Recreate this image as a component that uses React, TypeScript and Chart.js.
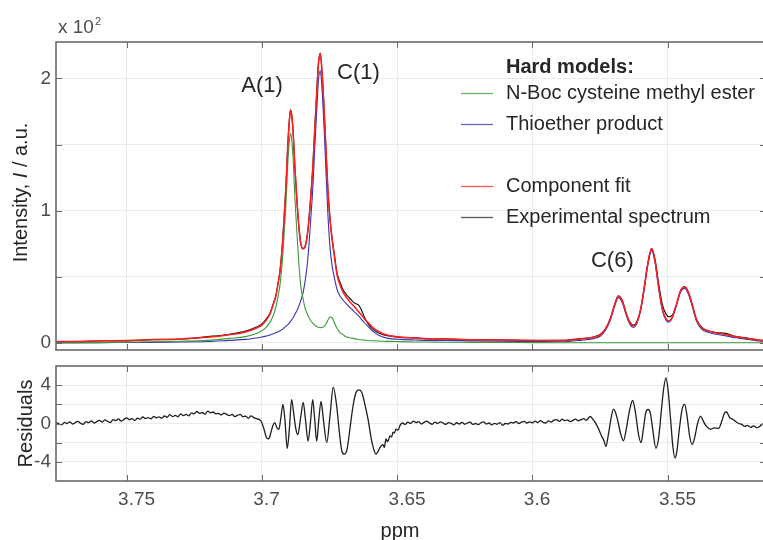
import { useEffect, useRef } from "react";
import { Chart, registerables } from "chart.js";
Chart.register(...registerables);

// ---------- data (chemical shift in ppm, intensity in x10^2 a.u.) ----------
const ppm = [
  3.78, 3.77, 3.76, 3.75, 3.74, 3.73, 3.72, 3.712, 3.706, 3.702,
  3.7, 3.6985, 3.697, 3.6959, 3.6948, 3.6941, 3.6933, 3.6926, 3.6919, 3.6911,
  3.6904, 3.6898, 3.6894, 3.6889, 3.6883, 3.6878, 3.687, 3.6863, 3.6856, 3.6848,
  3.6841, 3.6833, 3.6826, 3.6819, 3.6811, 3.6804, 3.6796, 3.6791, 3.6784, 3.6778,
  3.677, 3.6763, 3.6756, 3.6748, 3.6741, 3.6733, 3.6722, 3.6711, 3.67, 3.6689,
  3.6678, 3.6667, 3.6656, 3.6644, 3.6633, 3.6622, 3.6607, 3.6593, 3.6574, 3.6552,
  3.6526, 3.6489, 3.6433, 3.6378, 3.6322, 3.623, 3.6119, 3.6007, 3.5896, 3.5822,
  3.5774, 3.5748, 3.573, 3.5711, 3.5696, 3.5682, 3.5667, 3.5652, 3.5639, 3.5627,
  3.5615, 3.56, 3.5587, 3.5574, 3.5559, 3.5546, 3.5533, 3.5519, 3.5506, 3.5495,
  3.5482, 3.5467, 3.5452, 3.5436, 3.5422, 3.5407, 3.5393, 3.5374, 3.5348, 3.5319,
  3.5285, 3.5248, 3.52, 3.5145, 3.51,
];
const nBocCysteine = [
  0.0, 0.001, 0.003, 0.006, 0.009, 0.013, 0.02, 0.035, 0.048, 0.071,
  0.092, 0.117, 0.156, 0.202, 0.272, 0.341, 0.438, 0.575, 0.775, 1.045,
  1.355, 1.535, 1.585, 1.525, 1.34, 1.107, 0.825, 0.6, 0.43, 0.34,
  0.27, 0.225, 0.192, 0.168, 0.148, 0.133, 0.123, 0.119, 0.116, 0.117,
  0.125, 0.143, 0.171, 0.197, 0.193, 0.159, 0.109, 0.079, 0.063, 0.047,
  0.041, 0.036, 0.033, 0.027, 0.024, 0.022, 0.019, 0.017, 0.015, 0.013,
  0.012, 0.01, 0.008, 0.007, 0.006, 0.005, 0.004, 0.003, 0.002, 0.002,
  0.002, 0.002, 0.002, 0.002, 0.002, 0.002, 0.002, 0.002, 0.002, 0.002,
  0.002, 0.002, 0.002, 0.002, 0.002, 0.002, 0.002, 0.002, 0.002, 0.002,
  0.002, 0.002, 0.002, 0.002, 0.002, 0.002, 0.002, 0.002, 0.002, 0.002,
  0.002, 0.002, 0.002, 0.002, 0.002,
];
const thioetherProduct = [
  0.002, 0.002, 0.003, 0.004, 0.005, 0.007, 0.011, 0.02, 0.027, 0.038,
  0.045, 0.052, 0.06, 0.068, 0.077, 0.084, 0.092, 0.101, 0.112, 0.125,
  0.139, 0.152, 0.163, 0.177, 0.195, 0.217, 0.245, 0.28, 0.32, 0.375,
  0.455, 0.575, 0.735, 0.94, 1.19, 1.49, 1.795, 1.975, 2.06, 1.935,
  1.635, 1.305, 0.985, 0.725, 0.595, 0.505, 0.405, 0.355, 0.325, 0.3,
  0.275, 0.255, 0.232, 0.208, 0.183, 0.155, 0.125, 0.095, 0.065, 0.045,
  0.033, 0.027, 0.023, 0.02, 0.02, 0.016, 0.013, 0.011, 0.009, 0.02,
  0.033, 0.053, 0.095, 0.175, 0.275, 0.343, 0.305, 0.205, 0.14, 0.118,
  0.14, 0.24, 0.395, 0.575, 0.702, 0.605, 0.415, 0.245, 0.175, 0.158,
  0.19, 0.285, 0.385, 0.413, 0.365, 0.265, 0.165, 0.105, 0.08, 0.066,
  0.054, 0.04, 0.026, 0.012, 0.01,
];
const componentFit = [
  0.01, 0.012, 0.015, 0.019, 0.024, 0.031, 0.043, 0.062, 0.083, 0.113,
  0.135, 0.17, 0.217, 0.285, 0.355, 0.435, 0.54, 0.685, 0.895, 1.175,
  1.495, 1.685, 1.76, 1.715, 1.545, 1.335, 1.07, 0.88, 0.755, 0.715,
  0.725, 0.8, 0.93, 1.11, 1.345, 1.63, 1.93, 2.105, 2.19, 2.065,
  1.775, 1.465, 1.165, 0.935, 0.795, 0.675, 0.515, 0.44, 0.385, 0.35,
  0.32, 0.295, 0.27, 0.24, 0.215, 0.185, 0.155, 0.125, 0.093, 0.07,
  0.055, 0.045, 0.037, 0.032, 0.03, 0.025, 0.022, 0.02, 0.018, 0.03,
  0.043, 0.063, 0.105, 0.185, 0.285, 0.353, 0.315, 0.215, 0.15, 0.128,
  0.15, 0.25, 0.405, 0.585, 0.712, 0.615, 0.425, 0.255, 0.185, 0.168,
  0.2, 0.295, 0.395, 0.423, 0.375, 0.275, 0.175, 0.115, 0.09, 0.075,
  0.063, 0.048, 0.033, 0.018, 0.015,
];
const experimentalSpectrum = [
  0.012, 0.008, 0.017, 0.016, 0.027, 0.03, 0.048, 0.066, 0.09, 0.12,
  0.143, 0.178, 0.225, 0.29, 0.36, 0.44, 0.542, 0.688, 0.897, 1.178,
  1.497, 1.688, 1.762, 1.716, 1.546, 1.336, 1.07, 0.878, 0.752, 0.712,
  0.722, 0.798, 0.928, 1.109, 1.345, 1.631, 1.932, 2.107, 2.192, 2.067,
  1.778, 1.47, 1.17, 0.942, 0.805, 0.688, 0.53, 0.46, 0.405, 0.37,
  0.345, 0.32, 0.3, 0.29, 0.255, 0.2, 0.145, 0.11, 0.082, 0.063,
  0.052, 0.043, 0.039, 0.03, 0.032, 0.023, 0.024, 0.019, 0.02, 0.033,
  0.045, 0.066, 0.105, 0.19, 0.29, 0.357, 0.32, 0.22, 0.158, 0.135,
  0.155, 0.25, 0.41, 0.59, 0.715, 0.63, 0.45, 0.29, 0.22, 0.198,
  0.21, 0.29, 0.395, 0.427, 0.38, 0.28, 0.18, 0.12, 0.092, 0.078,
  0.073, 0.05, 0.036, 0.02, 0.018,
];

const residualPpm = [
  3.778, 3.777, 3.776, 3.775, 3.774, 3.773, 3.772, 3.771, 3.77, 3.769,
  3.768, 3.767, 3.766, 3.765, 3.764, 3.763, 3.762, 3.761, 3.76, 3.759,
  3.758, 3.757, 3.756, 3.755, 3.754, 3.753, 3.752, 3.751, 3.75, 3.749,
  3.748, 3.747, 3.746, 3.745, 3.744, 3.743, 3.742, 3.741, 3.74, 3.739,
  3.738, 3.737, 3.736, 3.735, 3.734, 3.733, 3.732, 3.731, 3.73, 3.729,
  3.728, 3.727, 3.726, 3.725, 3.724, 3.723, 3.722, 3.721, 3.72, 3.719,
  3.718, 3.717, 3.716, 3.715, 3.714, 3.713, 3.712, 3.711, 3.71, 3.709,
  3.708, 3.707, 3.706, 3.705, 3.704, 3.703, 3.702,
  3.7004, 3.6993, 3.6982, 3.6974, 3.6967, 3.6959, 3.6952, 3.6945, 3.6937, 3.693,
  3.6922, 3.6915, 3.6906, 3.6898, 3.689, 3.6882, 3.6874, 3.6867, 3.6857, 3.6847,
  3.6839, 3.6829, 3.682, 3.6812, 3.6805, 3.6797, 3.679, 3.6781, 3.6772, 3.676,
  3.6748, 3.6736, 3.6724, 3.6713, 3.6704, 3.6695, 3.6685, 3.6674, 3.6663, 3.6652,
  3.664, 3.663, 3.6619, 3.6607, 3.6596, 3.6585, 3.6578, 3.657, 3.6563, 3.6552,
  3.6547, 3.6541, 3.6535, 3.6526, 3.652, 3.6515, 3.651, 3.6504, 3.6496, 3.6489,
  3.648, 3.647, 3.646, 3.645, 3.644, 3.643, 3.642, 3.641, 3.64, 3.639,
  3.638, 3.637, 3.636, 3.635, 3.634, 3.633, 3.632, 3.631, 3.63, 3.629,
  3.628, 3.627, 3.626, 3.625, 3.624, 3.623, 3.622, 3.621, 3.62, 3.619,
  3.618, 3.617, 3.616, 3.615, 3.614, 3.613, 3.612, 3.611, 3.61, 3.609,
  3.608, 3.607, 3.606, 3.605, 3.604, 3.603, 3.602, 3.601, 3.6, 3.599,
  3.598, 3.597, 3.596, 3.595, 3.594, 3.593, 3.592, 3.591, 3.59, 3.589,
  3.588, 3.587, 3.586, 3.585, 3.584, 3.583, 3.582, 3.581, 3.58, 3.579,
  3.5785, 3.5778, 3.5767, 3.5756, 3.5744, 3.5735, 3.5728, 3.5719, 3.5709, 3.57,
  3.5693, 3.5685, 3.5674, 3.5663, 3.5652, 3.5641, 3.5629, 3.5619, 3.5607, 3.5598,
  3.5589, 3.558, 3.5572, 3.5563, 3.5554, 3.5543, 3.5533, 3.5524, 3.5515, 3.5506,
  3.5498, 3.5489, 3.548, 3.5472, 3.5465, 3.5456, 3.5446, 3.5437, 3.5428, 3.5419,
  3.5409, 3.54, 3.5389, 3.5378, 3.5367, 3.5356, 3.5341, 3.5326, 3.5311, 3.53,
  3.5289, 3.5282, 3.527, 3.5259, 3.5248, 3.5237, 3.5226, 3.5215, 3.5204, 3.5193,
  3.5182, 3.517, 3.5159, 3.5145, 3.512,
];
const residuals = [
  0.05, -0.1, 0.1, -0.05, -0.15, 0.12, 0.0, 0.18, -0.05, 0.1,
  0.22, 0.02, -0.08, 0.2, 0.1, 0.28, 0.05, 0.2, 0.32, 0.15,
  0.38, 0.22, 0.1, 0.4, 0.3, 0.48, 0.25, 0.42, 0.58, 0.4,
  0.5, 0.3, 0.55, 0.45, 0.68, 0.52, 0.62, 0.48, 0.75, 0.6,
  0.7, 0.55, 0.78, 0.65, 0.92, 0.72, 0.85, 0.7, 1.0, 0.82,
  0.95, 0.8, 1.1, 1.0, 1.25, 1.05, 1.15, 0.98, 1.3, 1.12,
  1.2, 1.0, 1.05, 0.9, 1.08, 0.95, 0.82, 0.95, 0.72, 0.85,
  0.95, 0.7, 0.78, 0.55, 0.8, 0.62, 0.5,
  0.3, -0.5, -1.5, -1.6, -1.0, -0.2, 0.1, -0.4, -0.6, 0.5,
  2.0, 0.5, -2.6, -0.5, 2.5, 1.0, -0.6, -1.15, 0.5, 2.2,
  0.5, -1.84, 0.2, 2.5, 0.6, -1.84, 0.2, 2.3, 0.3, -2.0,
  0.8, 3.8, 2.0, -1.0, -2.9, -3.2, -2.7, -0.5, 1.8, 3.2,
  3.5, 3.2, 2.0, 0.4, -1.5, -2.8, -3.2, -2.9, -2.5, -2.2,
  -2.5, -1.6, -1.9, -1.3, -1.4, -0.9, -1.0, -0.6, -0.7, -0.2,
  0.05, -0.1, 0.15, 0.0, 0.25, 0.1, 0.2, -0.05, 0.12, 0.25,
  0.05, -0.08, 0.15, 0.0, 0.18, 0.05, -0.1, 0.1, 0.02, -0.15,
  0.08, -0.05, 0.12, -0.08, 0.05, 0.15, -0.1, 0.0, -0.12, 0.08,
  0.18, -0.05, 0.05, -0.15, 0.02, -0.08, 0.1, -0.2, 0.0, -0.05,
  0.12, 0.05, 0.2, 0.0, 0.15, 0.22, 0.05, 0.18, 0.08, 0.25,
  0.1, 0.3, 0.12, 0.05, 0.28, 0.15, 0.35, 0.4, 0.22, 0.45,
  0.3, 0.38, 0.2, 0.32, 0.45, 0.28, 0.4, 0.5, 0.35, 0.65,
  0.75, 0.5, 0.1, -0.5, -1.3, -1.8, -2.4, -1.2, 0.5, 1.5,
  1.2, 0.4, -1.0, -1.8, -0.5, 1.3, 2.4, 1.2, -1.2, -2.0,
  -0.5, 1.2, 1.46, 1.0, -0.8, -2.6, -1.5, 1.0, 3.5, 4.75,
  3.5, 0.5, -2.5, -3.6, -2.8, -0.5, 1.5, 2.0, 0.8, -1.2,
  -2.2, -1.5, 0.0, 0.76, 0.2, -0.3, -0.6, -0.45, -0.5, 0.2,
  1.1, 1.2, 0.6, 0.45, 0.2, 0.0, -0.1, -0.3, -0.2, -0.4,
  -0.25, -0.45, -0.3, 0.0, 0.1,
];

const xTickValues = [3.75, 3.7, 3.65, 3.6, 3.55];
const xTickLabels = ["3.75", "3.7", "3.65", "3.6", "3.55"];
const yTickValues = [0, 0.5, 1, 1.5, 2];
const yTickLabels = ["0", "", "1", "", "2"];
const resTickValues = [-4, -2, 0, 2, 4];
const resTickLabels = ["-4", "", "0", "", "4"];

const peakLabelText = ["A(1)", "C(1)", "C(6)"];
const peakLabelPpm = [3.6999, 3.6643, 3.5704];
const peakLabelIntensity = [1.947, 2.043, 0.621];

const seriesNames = ["N-Boc cysteine methyl ester", "Thioether product", "Component fit", "Experimental spectrum"];
const legendHeader = "Hard models:";
const yTitleParts = ["Intensity, ", "I", " / a.u."];
const residualTitle = "Residuals";
const xTitle = "ppm";
const exponentBase = "x 10";
const exponentPower = "2";

// ---------- styling ----------
const FONT = "'Liberation Sans', Arial, Helvetica, sans-serif";
const TICK_COLOR = "#4d4d4d";
const TEXT_COLOR = "#262626";
const GRID_COLOR = "#ebebeb";
const FRAME_COLOR = "#6a6a6a";
const GREEN = "#3a9a3a";
const BLUE = "#3535b0";
const RED = "#ff1e1e";
const BLACK = "#1e1e1e";
const X_MIN = 3.5136;
const X_MAX = 3.7761;

function toXY(xs: number[], ys: number[]) {
  return xs.map((x, i) => ({ x, y: ys[i] }));
}
function labelFor(values: number[], labels: string[], v: number) {
  const i = values.findIndex((t) => Math.abs(t - v) < 1e-9);
  return i >= 0 ? labels[i] : "";
}
function zeroPad(s: any) {
  s.paddingTop = 0;
  s.paddingBottom = 0;
  s.paddingLeft = 0;
  s.paddingRight = 0;
}

function drawFrame(chart: any) {
  const { ctx, chartArea: a, scales } = chart;
  ctx.save();
  ctx.strokeStyle = FRAME_COLOR;
  ctx.lineWidth = 1.6;
  ctx.strokeRect(a.left, a.top, a.right - a.left, a.bottom - a.top);
  ctx.lineWidth = 1;
  const L = 6;
  ctx.beginPath();
  for (const t of scales.x.ticks) {
    const p = Math.round(scales.x.getPixelForValue(t.value)) + 0.5;
    ctx.moveTo(p, a.top);
    ctx.lineTo(p, a.top + L);
    ctx.moveTo(p, a.bottom);
    ctx.lineTo(p, a.bottom - L);
  }
  for (const t of scales.y.ticks) {
    const p = Math.round(scales.y.getPixelForValue(t.value)) + 0.5;
    ctx.moveTo(a.left, p);
    ctx.lineTo(a.left + L, p);
    ctx.moveTo(a.right, p);
    ctx.lineTo(a.right - L, p);
  }
  ctx.stroke();
  ctx.restore();
}

const topDecor = {
  id: "topDecor",
  afterDraw(chart: any) {
    drawFrame(chart);
    const { ctx, scales } = chart;
    ctx.save();
    // peak annotations
    ctx.fillStyle = TEXT_COLOR;
    ctx.font = `22px ${FONT}`;
    ctx.textAlign = "center";
    ctx.textBaseline = "middle";
    peakLabelText.forEach((t, i) => {
      ctx.fillText(t, scales.x.getPixelForValue(peakLabelPpm[i]), scales.y.getPixelForValue(peakLabelIntensity[i]));
    });
    // legend
    ctx.textAlign = "left";
    ctx.font = `bold 20px ${FONT}`;
    ctx.fillText(legendHeader, 506, 67.5);
    ctx.font = `20px ${FONT}`;
    const rows = [93.3, 124, 186, 217.3];
    const colors = [GREEN, BLUE, RED, BLACK];
    rows.forEach((y, i) => {
      ctx.strokeStyle = colors[i];
      ctx.globalAlpha = 0.75;
      ctx.lineWidth = 1.3;
      ctx.beginPath();
      ctx.moveTo(461, Math.round(y) + 0.5);
      ctx.lineTo(493, Math.round(y) + 0.5);
      ctx.stroke();
      ctx.globalAlpha = 1;
      ctx.fillStyle = TEXT_COLOR;
      ctx.fillText(seriesNames[i], 506, y);
    });
    // exponent
    ctx.fillStyle = TICK_COLOR;
    ctx.textBaseline = "alphabetic";
    ctx.font = `19px ${FONT}`;
    ctx.fillText(exponentBase, 58, 33);
    const w = ctx.measureText(exponentBase).width;
    ctx.font = `11px ${FONT}`;
    ctx.fillText(exponentPower, 58 + w + 1, 25);
    // y title
    ctx.translate(27, 192.5);
    ctx.rotate(-Math.PI / 2);
    ctx.fillStyle = TEXT_COLOR;
    const fonts = [`20px ${FONT}`, `italic 20px ${FONT}`, `20px ${FONT}`];
    let total = 0;
    const widths = yTitleParts.map((p, i) => {
      ctx.font = fonts[i];
      const m = ctx.measureText(p).width;
      total += m;
      return m;
    });
    let x = -total / 2;
    yTitleParts.forEach((p, i) => {
      ctx.font = fonts[i];
      ctx.fillText(p, x, 0);
      x += widths[i];
    });
    ctx.restore();
  },
};

const bottomDecor = {
  id: "bottomDecor",
  afterDraw(chart: any) {
    drawFrame(chart);
    const { ctx } = chart;
    ctx.save();
    ctx.fillStyle = TEXT_COLOR;
    ctx.font = `20px ${FONT}`;
    ctx.textAlign = "center";
    ctx.textBaseline = "alphabetic";
    ctx.fillText(xTitle, 400, 179);
    ctx.translate(31.5, 65.5);
    ctx.rotate(-Math.PI / 2);
    ctx.fillText(residualTitle, 0, 0);
    ctx.restore();
  },
};

function xScale(showLabels: boolean, height: number) {
  return {
    type: "linear",
    min: X_MIN,
    max: X_MAX,
    reverse: true,
    afterBuildTicks: (s: any) => {
      s.ticks = xTickValues.map((value) => ({ value }));
    },
    afterFit: (s: any) => {
      s.height = height;
      zeroPad(s);
    },
    ticks: {
      display: showLabels,
      autoSkip: false,
      maxRotation: 0,
      minRotation: 0,
      align: "start",
      labelOffset: -8.5,
      padding: 7,
      color: TICK_COLOR,
      font: { family: FONT, size: 19 },
      callback: (v: number) => labelFor(xTickValues, xTickLabels, v),
    },
    grid: { color: GRID_COLOR, drawTicks: false, lineWidth: 1 },
    border: { display: false },
  };
}

function yScale(min: number, max: number, values: number[], labels: string[]) {
  return {
    type: "linear",
    min,
    max,
    afterBuildTicks: (s: any) => {
      s.ticks = values.map((value) => ({ value }));
    },
    afterFit: (s: any) => {
      s.width = 56;
      zeroPad(s);
    },
    ticks: {
      padding: 5,
      color: TICK_COLOR,
      font: { family: FONT, size: 19 },
      callback: (v: number) => labelFor(values, labels, v),
    },
    grid: { color: GRID_COLOR, drawTicks: false, lineWidth: 1 },
    border: { display: false },
  };
}

function lineDs(label: string, ys: number[], xs: number[], color: string, width: number, order: number) {
  return {
    label,
    data: toXY(xs, ys),
    borderColor: color,
    backgroundColor: color,
    borderWidth: width,
    pointRadius: 0,
    tension: 0.4,
    cubicInterpolationMode: "monotone",
    fill: false,
    order,
  };
}

export default function App() {
  const topRef = useRef<HTMLCanvasElement>(null);
  const botRef = useRef<HTMLCanvasElement>(null);

  useEffect(() => {
    const common = {
      responsive: false,
      animation: false,
      events: [],
      plugins: { legend: { display: false }, title: { display: false }, tooltip: { enabled: false } },
    };
    const top = new Chart(topRef.current as HTMLCanvasElement, {
      type: "line",
      data: {
        datasets: [
          lineDs(seriesNames[2], componentFit, ppm, RED, 1.5, 0),
          lineDs(seriesNames[0], nBocCysteine, ppm, GREEN, 1.1, 1),
          lineDs(seriesNames[1], thioetherProduct, ppm, BLUE, 1.1, 2),
          lineDs(seriesNames[3], experimentalSpectrum, ppm, BLACK, 1.2, 3),
        ] as any,
      },
      options: {
        ...common,
        layout: { padding: { top: 42, right: 4, bottom: 10, left: 0 } },
        scales: {
          x: xScale(false, 0),
          y: yScale(-0.053, 2.276, yTickValues, yTickLabels),
        } as any,
      } as any,
      plugins: [topDecor],
    });
    const bot = new Chart(botRef.current as HTMLCanvasElement, {
      type: "line",
      data: {
        datasets: [lineDs(residualTitle, residuals, residualPpm, BLACK, 1.3, 0)] as any,
      },
      options: {
        ...common,
        layout: { padding: { top: 8, right: 4, bottom: 0, left: 0 } },
        scales: {
          x: xScale(true, 59),
          y: yScale(-6, 6, resTickValues, resTickLabels),
        } as any,
      } as any,
      plugins: [bottomDecor],
    });
    return () => {
      top.destroy();
      bot.destroy();
    };
  }, []);

  return (
    <div style={{ position: "absolute", left: 0, top: 0, width: 763, height: 540, overflow: "hidden", background: "#fff" }}>
      <canvas ref={topRef} width={770} height={360} style={{ position: "absolute", left: 0, top: 0 }} />
      <canvas ref={botRef} width={770} height={182} style={{ position: "absolute", left: 0, top: 358 }} />
    </div>
  );
}
